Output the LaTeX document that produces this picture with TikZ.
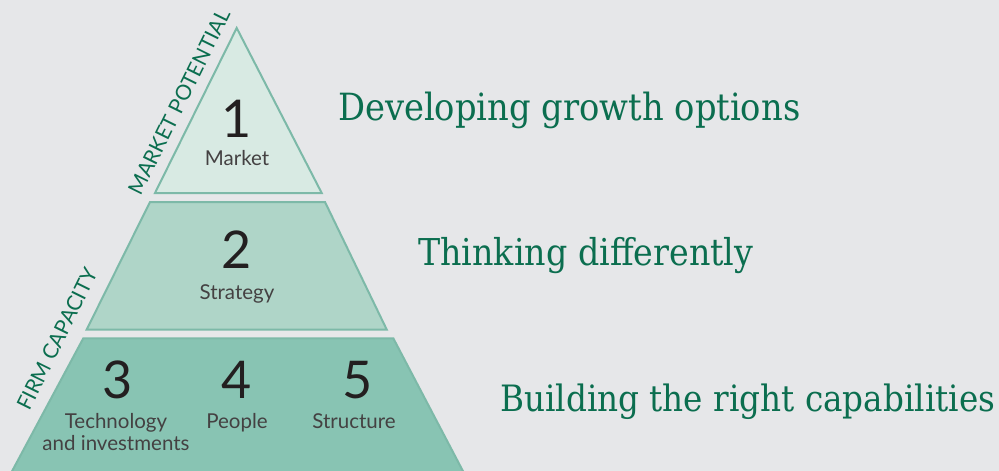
\documentclass[tikz,border=0pt]{standalone}
\usepackage{fontspec}
\setmainfont{Lato}
\newfontfamily\titlefont{DejaVu Serif Condensed}
\definecolor{bgc}{HTML}{E6E7E9}
\definecolor{edgec}{HTML}{7DB9A8}
\definecolor{tierA}{HTML}{D8EAE3}
\definecolor{tierB}{HTML}{AFD5C8}
\definecolor{tierC}{HTML}{88C4B3}
\definecolor{greenc}{HTML}{0B6E4F}
\definecolor{darkc}{HTML}{231F20}
\begin{document}
\begin{tikzpicture}[x=1pt,y=-1pt,
  tier/.style={draw=edgec,line width=2pt,line join=miter},
  num/.style={text=darkc,font=\fontsize{52}{52}\selectfont,inner sep=0pt,anchor=center},
  lab/.style={text=darkc!85,font=\fontsize{20.5}{22}\selectfont,inner sep=0pt,anchor=base,align=center},
  side/.style={text=greenc,font=\fontsize{21}{21}\selectfont,inner sep=0pt,anchor=center,rotate=63.7},
  title/.style={text=greenc,font=\titlefont\fontsize{37.5}{37.5}\selectfont,inner sep=0pt,anchor=base west}]
\fill[bgc] (0,0) rectangle (999,471);
\useasboundingbox (0,0) rectangle (999,471);
% tiers
\path[tier,fill=tierA] (236.7,28) -- (321.7,193) -- (155,193) -- cycle;
\path[tier,fill=tierB] (150,202) -- (325,202) -- (386.7,329.5) -- (86.7,329.5) -- cycle;
\path[tier,fill=tierC] (83.3,338.3) -- (393.3,338.3) -- (465,475) -- (10,475) -- cycle;
% numbers
\node[num] (n1) at (237,118.5) {1};
\node[lab] (l1) at (237,165) {Market};
\node[num] (n2) at (237,250) {2};
\node[lab] (l2) at (237,299) {Strategy};
\node[num] (n3) at (118,380) {3};
\node[num] (n4) at (237,380) {4};
\node[num] (n5) at (358,380) {5};
\node[lab] (l3) at (116,450) {Technology\\and investments};
\node[lab] (l4) at (237,428) {People};
\node[lab] (l5) at (354,428) {Structure};
% side labels
\node[side] (s1) at (179,102) {MARKET POTENTIAL};
\node[side] (s2) at (57,339) {FIRM CAPACITY};
% titles
\node[title] (t1) at (338,120) {Developing growth options};
\node[title,font=\titlefont\fontsize{37}{37}\selectfont] (t2) at (418,265) {Thinking differently};
\node[title,font=\titlefont\fontsize{36.3}{36.3}\selectfont] (t3) at (500,411.6) {Building the right capabilities};
\end{tikzpicture}
\end{document}
